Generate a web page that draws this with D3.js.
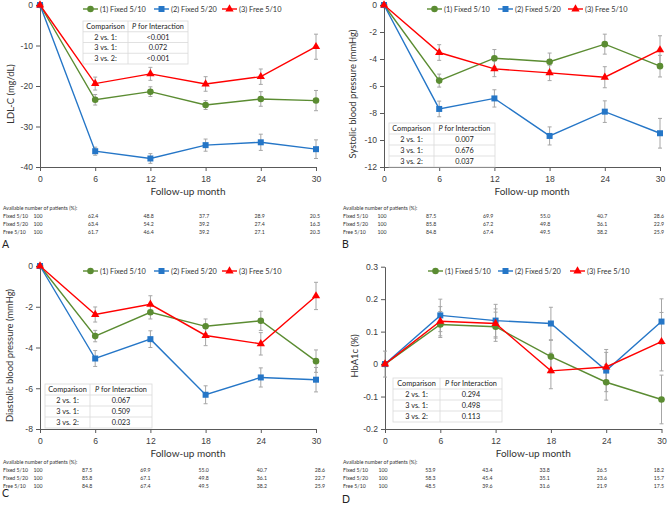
<!DOCTYPE html>
<html>
<head>
<meta charset="utf-8">
<script src="https://cdn.jsdelivr.net/npm/d3@7"></script>
<style>
  body { margin: 0; background: #fff; }
  svg { display: block; font-family: Lato, "Liberation Sans", sans-serif; }
</style>
</head>
<body>
<svg id="chart" width="669" height="520"></svg>
<script>
const months = [0, 6, 12, 18, 24, 30];
const seriesNames = ['(1) Fixed 5/10', '(2) Fixed 5/20', '(3) Free 5/10'];
const rowNames = ['Fixed 5/10', 'Fixed 5/20', 'Free 5/10'];
const comparisons = ['2 vs. 1:', '3 vs. 1:', '3 vs. 2:'];

// A: LDL-C (mg/dL)
const ldlFixed510 = [0, -23.4, -21.4, -24.7, -23.2, -23.6];
const ldlFixed520 = [0, -36.1, -37.9, -34.6, -33.9, -35.6];
const ldlFree510 = [0, -19.4, -17.0, -19.5, -17.7, -10.3];
const ldlErrFixed510 = [0, 1.3, 1.2, 1.1, 1.8, 2.5];
const ldlErrFixed520 = [0, 1.0, 1.2, 1.5, 2.0, 2.3];
const ldlErrFree510 = [0, 1.6, 1.6, 1.8, 1.9, 3.1];
const ldlP = ['<0.001', '0.072', '<0.001'];
const ldlPatients = [
  ['100', '62.4', '48.8', '37.7', '28.9', '20.5'],
  ['100', '63.4', '54.2', '39.2', '27.4', '16.3'],
  ['100', '61.7', '46.4', '39.2', '27.1', '20.3']
];

// B: systolic blood pressure (mmHg)
const sbpFixed510 = [0, -5.6, -3.94, -4.2, -2.9, -4.53];
const sbpFixed520 = [0, -7.7, -6.92, -9.7, -7.9, -9.5];
const sbpFree510 = [0, -3.52, -4.73, -5.03, -5.35, -3.33];
const sbpErrFixed510 = [0, 0.48, 0.64, 0.64, 0.74, 0.8];
const sbpErrFixed520 = [0, 0.58, 0.64, 0.67, 0.8, 1.1];
const sbpErrFree510 = [0, 0.58, 0.58, 0.57, 0.78, 1.05];
const sbpP = ['0.007', '0.676', '0.037'];
const sbpPatients = [
  ['100', '87.5', '69.9', '55.0', '40.7', '28.6'],
  ['100', '85.8', '67.2', '49.8', '36.1', '22.9'],
  ['100', '84.8', '67.4', '49.5', '38.2', '25.9']
];

// C: diastolic blood pressure (mmHg)
const dbpFixed510 = [0, -3.44, -2.27, -2.96, -2.69, -4.67];
const dbpFixed520 = [0, -4.54, -3.59, -6.32, -5.47, -5.58];
const dbpFree510 = [0, -2.38, -1.88, -3.41, -3.82, -1.47];
const dbpErrFixed510 = [0, 0.28, 0.33, 0.36, 0.47, 0.55];
const dbpErrFixed520 = [0, 0.39, 0.41, 0.44, 0.47, 0.6];
const dbpErrFree510 = [0, 0.37, 0.42, 0.5, 0.55, 0.67];
const dbpP = ['0.067', '0.509', '0.023'];
const dbpPatients = [
  ['100', '87.5', '69.9', '55.0', '40.7', '28.6'],
  ['100', '85.8', '67.1', '49.8', '36.1', '22.7'],
  ['100', '84.8', '67.4', '49.5', '38.2', '25.9']
];

// D: HbA1c (%)
const hbaFixed510 = [0, 0.122, 0.115, 0.023, -0.056, -0.109];
const hbaFixed520 = [0, 0.15, 0.134, 0.125, -0.02, 0.131];
const hbaFree510 = [0, 0.132, 0.125, -0.021, -0.009, 0.069];
const hbaErrFixed510 = [0.04, 0.04, 0.045, 0.05, 0.055, 0.075];
const hbaErrFixed520 = [0, 0.05, 0.05, 0.05, 0.065, 0.07];
const hbaErrFree510 = [0, 0.045, 0.045, 0.055, 0.045, 0.09];
const hbaP = ['0.294', '0.498', '0.113'];
const hbaPatients = [
  ['100', '53.9', '43.4', '33.8', '26.5', '18.2'],
  ['100', '58.3', '45.4', '35.1', '23.6', '15.7'],
  ['100', '48.5', '39.6', '31.6', '21.9', '17.5']
];

const colors = ['#5b8c32', '#2576c7', '#ff0000'];
const symbols = [d3.symbolCircle, d3.symbolSquare, d3.symbolTriangle];
const symbolSizes = [34, 36, 30];

const svg = d3.select('#chart');

const panels = [
  { letter: 'A', title: 'LDL-C (mg/dL)', means: [ldlFixed510, ldlFixed520, ldlFree510],
    errs: [ldlErrFixed510, ldlErrFixed520, ldlErrFree510], pvals: ldlP, patients: ldlPatients,
    yDomain: [-40, 0], yTicks: d3.range(-40, 1, 10),
    x0: 40, x1: 316, yTop: 5, yBot: 167, titleX: 11,
    legendX: [83, 154, 222], legendY: 9,
    cmp: { x0: 83, xd: 128, x1: 188, y0: 21, h: 10.75 },
    tab: { label: 3, d6: -2, d30: -1, head: 210, row0: 218, letterY: 248 } },
  { letter: 'B', title: 'Systolic blood pressure (mmHg)', means: [sbpFixed510, sbpFixed520, sbpFree510],
    errs: [sbpErrFixed510, sbpErrFixed520, sbpErrFree510], pvals: sbpP, patients: sbpPatients,
    yDomain: [-12, 0], yTicks: d3.range(-12, 1, 2),
    x0: 384, x1: 660, yTop: 5, yBot: 167, titleX: 353,
    legendX: [427, 498, 568], legendY: 9,
    cmp: { x0: 389, xd: 434, x1: 495, y0: 123, h: 11 },
    tab: { label: 343, d6: -8, d30: -1, head: 210, row0: 218, letterY: 248 } },
  { letter: 'C', title: 'Diastolic blood pressure (mmHg)', means: [dbpFixed510, dbpFixed520, dbpFree510],
    errs: [dbpErrFixed510, dbpErrFixed520, dbpErrFree510], pvals: dbpP, patients: dbpPatients,
    yDomain: [-8, 0], yTicks: d3.range(-8, 1, 2),
    x0: 40, x1: 316, yTop: 266, yBot: 429, titleX: 10,
    legendX: [83, 154, 222], legendY: 271,
    cmp: { x0: 45, xd: 90, x1: 152, y0: 384, h: 11 },
    tab: { label: 3, d6: -8, d30: 4, head: 464, row0: 471.5, letterY: 497 } },
  { letter: 'D', title: 'HbA1c (%)', means: [hbaFixed510, hbaFixed520, hbaFree510],
    errs: [hbaErrFixed510, hbaErrFixed520, hbaErrFree510], pvals: hbaP, patients: hbaPatients,
    yDomain: [-0.2, 0.3], yTicks: [-0.2, -0.1, 0, 0.1, 0.2, 0.3],
    x0: 385, x1: 661.5, yTop: 266.7, yBot: 429, titleX: 354.5,
    legendX: [428, 498, 570], legendY: 271,
    cmp: { x0: 393, xd: 440, x1: 502, y0: 378, h: 11 },
    tab: { label: 343, d6: -10, d30: -2.5, head: 464, row0: 471.5, letterY: 503 } }
];

function drawPanel(p) {
  const g = svg.append('g');
  const x = d3.scaleLinear().domain([0, 30]).range([p.x0, p.x1]);
  const y = d3.scaleLinear().domain(p.yDomain).range([p.yBot, p.yTop]);
  const fmt = d => String(+d.toFixed(1));

  // Y axis
  const yAx = g.append('g')
    .attr('transform', `translate(${p.x0},0)`)
    .call(d3.axisLeft(y).tickValues(p.yTicks).tickSize(4).tickSizeOuter(0).tickPadding(3).tickFormat(fmt));
  // X axis
  const xAx = g.append('g')
    .attr('transform', `translate(0,${p.yBot})`)
    .call(d3.axisBottom(x).tickValues(months).tickSize(4).tickSizeOuter(0).tickPadding(5));
  [yAx, xAx].forEach(a => {
    a.select('.domain').attr('stroke', '#595959');
    a.selectAll('line').attr('stroke', '#595959');
    a.selectAll('text').style('font-size', '8.6px').attr('fill', '#404040').style('font-family', 'inherit');
  });

  g.append('text')
    .attr('x', (p.x0 + p.x1) / 2 + 10)
    .attr('y', p.yBot + 28)
    .attr('text-anchor', 'middle')
    .style('font-size', '10px')
    .attr('fill', '#333')
    .text('Follow-up month');

  g.append('text')
    .attr('transform', `translate(${p.titleX},${(p.yTop + p.yBot) / 2 + 8}) rotate(-90)`)
    .attr('text-anchor', 'middle')
    .attr('dy', '0.35em')
    .style('font-size', '9.4px')
    .attr('fill', '#333')
    .text(p.title);

  // error bars
  p.means.forEach((vals, s) => {
    months.forEach((m, i) => {
      const e = p.errs[s][i];
      if (!e) return;
      const cx = x(m);
      const eg = g.append('g').attr('stroke', '#a6a6a6').attr('stroke-width', 1);
      eg.append('line').attr('x1', cx).attr('x2', cx).attr('y1', y(vals[i] - e)).attr('y2', y(vals[i] + e));
      eg.append('line').attr('x1', cx - 2).attr('x2', cx + 2).attr('y1', y(vals[i] - e)).attr('y2', y(vals[i] - e));
      eg.append('line').attr('x1', cx - 2).attr('x2', cx + 2).attr('y1', y(vals[i] + e)).attr('y2', y(vals[i] + e));
    });
  });

  // lines and markers
  const line = d3.line().x((d, i) => x(months[i])).y(d => y(d));
  p.means.forEach((vals, s) => {
    g.append('path').datum(vals)
      .attr('fill', 'none').attr('stroke', colors[s]).attr('stroke-width', 1.4)
      .attr('d', line);
    g.selectAll(null).data(vals).enter().append('path')
      .attr('transform', (d, i) => `translate(${x(months[i])},${y(d)})`)
      .attr('d', d3.symbol().type(symbols[s]).size(symbolSizes[s]))
      .attr('fill', colors[s]);
  });

  // legend
  seriesNames.forEach((name, s) => {
    const lg = g.append('g').attr('transform', `translate(${p.legendX[s]},${p.legendY})`);
    lg.append('line').attr('x1', 0).attr('x2', 15).attr('stroke', colors[s]).attr('stroke-width', 1.4);
    lg.append('path').attr('transform', 'translate(7.5,0)')
      .attr('d', d3.symbol().type(symbols[s]).size(symbolSizes[s])).attr('fill', colors[s]);
    lg.append('text').attr('x', 17).attr('dy', '0.35em')
      .style('font-size', '7.4px').attr('fill', '#333').text(name);
  });

  // comparison table
  const c = p.cmp;
  const ct = g.append('g');
  ct.append('rect').attr('x', c.x0).attr('y', c.y0).attr('width', c.x1 - c.x0).attr('height', c.h * 4)
    .attr('fill', '#fff').attr('stroke', '#d9d9d9').attr('stroke-width', 0.8);
  [1, 2, 3].forEach(r => ct.append('line').attr('x1', c.x0).attr('x2', c.x1)
    .attr('y1', c.y0 + r * c.h).attr('y2', c.y0 + r * c.h).attr('stroke', '#d9d9d9').attr('stroke-width', 0.8));
  ct.append('line').attr('x1', c.xd).attr('x2', c.xd).attr('y1', c.y0).attr('y2', c.y0 + c.h * 4)
    .attr('stroke', '#d9d9d9').attr('stroke-width', 0.8);
  const c1 = (c.x0 + c.xd) / 2, c2 = (c.xd + c.x1) / 2;
  const tt = ct.append('g').style('font-size', '7.3px').attr('fill', '#222').attr('text-anchor', 'middle');
  tt.append('text').attr('x', c1).attr('y', c.y0 + c.h / 2).attr('dy', '0.35em').text('Comparison');
  const ph = tt.append('text').attr('x', c2).attr('y', c.y0 + c.h / 2).attr('dy', '0.35em');
  ph.append('tspan').style('font-style', 'italic').text('P');
  ph.append('tspan').text(' for Interaction');
  comparisons.forEach((lab, r) => {
    const cy = c.y0 + (r + 1.5) * c.h;
    tt.append('text').attr('x', c1).attr('y', cy).attr('dy', '0.35em').text(lab);
    tt.append('text').attr('x', c2).attr('y', cy).attr('dy', '0.35em').text(p.pvals[r]);
  });

  // patients table
  const t = p.tab;
  const tx = d3.scaleLinear().domain([6, 30]).range([x(6) + t.d6, x(30) + t.d30]);
  const colX = m => (m === 0 ? x(0) - 2 : tx(m));
  const pt = g.append('g').style('font-size', '5.2px').attr('fill', '#333');
  pt.append('text').attr('x', t.label).attr('y', t.head).text('Available number of patients (%):');
  rowNames.forEach((rn, r) => {
    const ry = t.row0 + r * 8;
    pt.append('text').attr('x', t.label).attr('y', ry).text(rn);
    pt.selectAll(null).data(p.patients[r]).enter().append('text')
      .attr('x', (d, i) => colX(months[i]))
      .attr('y', ry)
      .attr('text-anchor', 'middle')
      .text(d => d);
  });

  g.append('text').attr('x', t.label - 1).attr('y', t.letterY)
    .style('font-size', '10.5px').attr('fill', '#222').text(p.letter);
}

panels.forEach(drawPanel);
</script>
</body>
</html>
